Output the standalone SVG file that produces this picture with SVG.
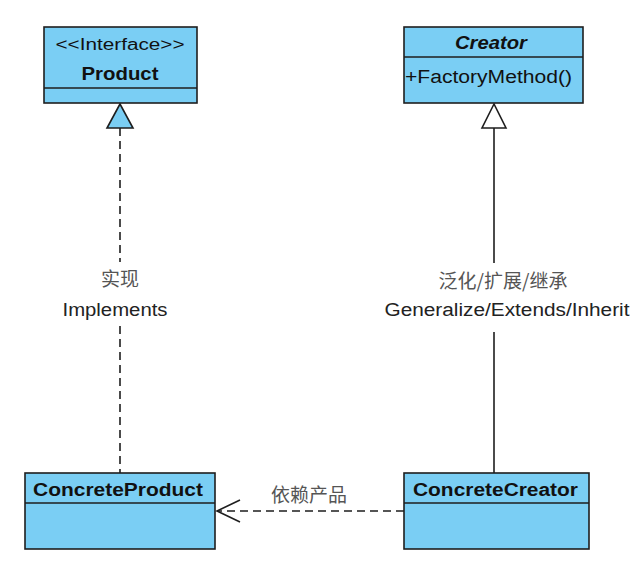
<svg xmlns="http://www.w3.org/2000/svg" width="639" height="566" viewBox="0 0 639 566">
<style>
.box{fill:#7ACEF4;stroke:#1e1e1e;stroke-width:1.6}
.div{stroke:#1e1e1e;stroke-width:1.6}
.t{font-family:"Liberation Sans",Arial,sans-serif;fill:#111}
.b{font-weight:bold}
.lbl{font-family:"Liberation Sans","Noto Sans CJK SC",sans-serif;font-size:18px;fill:#222}
.cjk{font-family:"Noto Sans CJK SC",sans-serif;font-size:19px;fill:#555}
.conn{stroke:#1e1e1e;stroke-width:1.6;fill:none}
.dash{stroke-dasharray:8 5}
</style>
<rect width="639" height="566" fill="#ffffff"/>
<g id="connectors">
<line class="conn dash" x1="120" y1="128" x2="120" y2="262"/>
<line class="conn dash" x1="120" y1="326" x2="120" y2="473"/>
<polygon points="120,104 107,128 133,128" fill="#7ACEF4" stroke="#1e1e1e" stroke-width="1.6"/>
<line class="conn" x1="494" y1="128" x2="494" y2="263"/>
<line class="conn" x1="494" y1="332" x2="494" y2="473"/>
<polygon points="494,104 482,128 506,128" fill="#ffffff" stroke="#1e1e1e" stroke-width="1.6"/>
<line class="conn dash" x1="404" y1="511" x2="218" y2="511"/>
<polyline class="conn" points="240,500 217,511 240,522"/>
<text class="cjk" x="120" y="286" text-anchor="middle">实现</text>
<text class="lbl" x="115" y="316" text-anchor="middle" textLength="105" lengthAdjust="spacingAndGlyphs">Implements</text>
<text class="cjk" x="503" y="288" text-anchor="middle">泛化/扩展/继承</text>
<text class="lbl" x="507" y="316" text-anchor="middle" textLength="245" lengthAdjust="spacingAndGlyphs">Generalize/Extends/Inherit</text>
<text class="cjk" x="309" y="502" text-anchor="middle">依赖产品</text>
</g>
<g id="Product">
<rect class="box" x="44" y="27" width="153" height="76"/>
<line class="div" x1="44" y1="88" x2="197" y2="88"/>
<text class="t" x="120" y="50" font-size="16" text-anchor="middle" textLength="129" lengthAdjust="spacingAndGlyphs">&lt;&lt;Interface&gt;&gt;</text>
<text class="t b" x="120" y="80" font-size="18" text-anchor="middle" textLength="77" lengthAdjust="spacingAndGlyphs">Product</text>
</g>
<g id="Creator">
<rect class="box" x="404" y="27" width="179" height="76"/>
<line class="div" x1="404" y1="57" x2="583" y2="57"/>
<text class="t b" x="491" y="49" font-size="18" font-style="italic" text-anchor="middle" textLength="72" lengthAdjust="spacingAndGlyphs">Creator</text>
<text class="t" x="405" y="83" font-size="18" textLength="167" lengthAdjust="spacingAndGlyphs">+FactoryMethod()</text>
</g>
<g id="ConcreteProduct">
<rect class="box" x="25" y="473" width="190" height="76"/>
<line class="div" x1="25" y1="503" x2="215" y2="503"/>
<text class="t b" x="33" y="496" font-size="18" textLength="170" lengthAdjust="spacingAndGlyphs">ConcreteProduct</text>
</g>
<g id="ConcreteCreator">
<rect class="box" x="404" y="473" width="185" height="76"/>
<line class="div" x1="404" y1="503" x2="589" y2="503"/>
<text class="t b" x="413" y="496" font-size="18" textLength="165" lengthAdjust="spacingAndGlyphs">ConcreteCreator</text>
</g>
</svg>
